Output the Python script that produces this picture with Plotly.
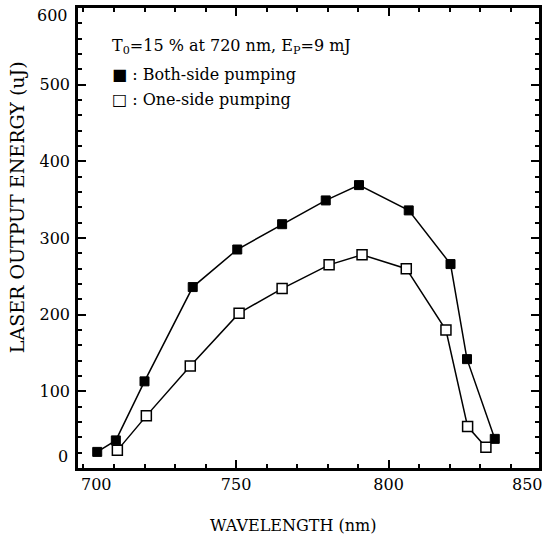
import plotly.graph_objects as go

# Both-side pumping (filled squares)
both_wl = [704.5, 710.6, 720.0, 735.8, 750.4, 765.1, 779.4, 790.3, 806.6, 820.3, 825.7, 834.8]
both_e = [21, 36, 113, 236, 285, 318, 349, 369, 336, 266, 142, 38]

# One-side pumping (open squares)
one_wl = [711.1, 720.6, 735.0, 751.0, 765.1, 780.5, 791.3, 805.8, 818.8, 825.9, 831.9]
one_e = [23, 68, 133, 202, 234, 265, 278, 260, 180, 54, 27]

x_ticks = [700, 750, 800, 850]
y_ticks = [0, 100, 200, 300, 400, 500, 600]

FONT = "DejaVu Serif"

fig = go.Figure()
fig.add_trace(go.Scatter(
    x=both_wl, y=both_e, mode="lines+markers",
    line=dict(color="black", width=1.5),
    marker=dict(symbol="square", size=9, color="black", line=dict(color="black", width=1)),
    showlegend=False,
))
fig.add_trace(go.Scatter(
    x=one_wl, y=one_e, mode="lines+markers",
    line=dict(color="black", width=1.5),
    marker=dict(symbol="square", size=10, color="white", line=dict(color="black", width=1.5)),
    showlegend=False,
))

tick_font = dict(family=FONT, size=16, color="black")
axis_common = dict(
    showline=True, linecolor="black", linewidth=2.5, mirror="allticks",
    ticks="inside", ticklen=8, tickwidth=2, tickcolor="black",
    showgrid=False, zeroline=False, tickfont=tick_font,
)
# inner tick labels drawn by the axis; the end labels are set inward as annotations
fig.update_xaxes(range=[698.2, 849.3], tickvals=x_ticks[1:-1],
                 minor=dict(dtick=10, tick0=700, ticks="inside", ticklen=4, tickwidth=1.5, tickcolor="black"),
                 **axis_common)
fig.update_yaxes(range=[0, 600], tickvals=y_ticks[1:-1], ticklabelstandoff=2,
                 minor=dict(dtick=20, tick0=0, ticks="inside", ticklen=4, tickwidth=1.5, tickcolor="black"),
                 **axis_common)

ann_font = dict(family=FONT, size=16, color="black")
annotations = [
    dict(text="WAVELENGTH (nm)", xref="paper", yref="paper", x=0.5, y=0,
         xanchor="center", yanchor="middle", xshift=-16, yshift=-57, showarrow=False,
         font=dict(family=FONT, size=16, color="black")),
    dict(text="LASER OUTPUT ENERGY (uJ)", xref="paper", yref="paper", x=0, y=0.567,
         xanchor="center", yanchor="middle", xshift=-61, textangle=-90, showarrow=False,
         font=dict(family=FONT, size=19, color="black")),
    dict(text="T<sub>0</sub>=15 % at 720 nm, E<sub>P</sub>=9 mJ", xref="paper", yref="paper",
         x=0.069, y=0.917, xanchor="left", yanchor="middle", showarrow=False, font=ann_font),
    dict(text="■ : Both-side pumping", xref="paper", yref="paper",
         x=0.069, y=0.856, xanchor="left", yanchor="middle", showarrow=False, font=ann_font),
    dict(text="□ : One-side pumping", xref="paper", yref="paper",
         x=0.069, y=0.80, xanchor="left", yanchor="middle", showarrow=False, font=ann_font),
    dict(text=str(x_ticks[0]), xref="x", yref="paper", x=x_ticks[0], y=0,
         xanchor="center", yanchor="middle", xshift=13, yshift=-16, showarrow=False, font=tick_font),
    dict(text=str(x_ticks[-1]), xref="paper", yref="paper", x=1, y=0,
         xanchor="center", yanchor="middle", xshift=-12, yshift=-16, showarrow=False, font=tick_font),
    dict(text=str(y_ticks[0]), xref="paper", yref="y", x=0, y=y_ticks[0],
         xanchor="right", yanchor="middle", xshift=-8, yshift=12, showarrow=False, font=tick_font),
    dict(text=str(y_ticks[-1]), xref="paper", yref="y", x=0, y=y_ticks[-1],
         xanchor="right", yanchor="middle", xshift=-8, yshift=-7, showarrow=False, font=tick_font),
]

fig.update_layout(
    width=546, height=548,
    margin=dict(l=78, r=4, t=8, b=80),
    plot_bgcolor="white", paper_bgcolor="white",
    annotations=annotations,
)

fig.write_html(
    "out.html",
    config={"displayModeBar": False},
    post_script="document.body.style.margin='0';document.body.style.overflow='hidden';",
)
